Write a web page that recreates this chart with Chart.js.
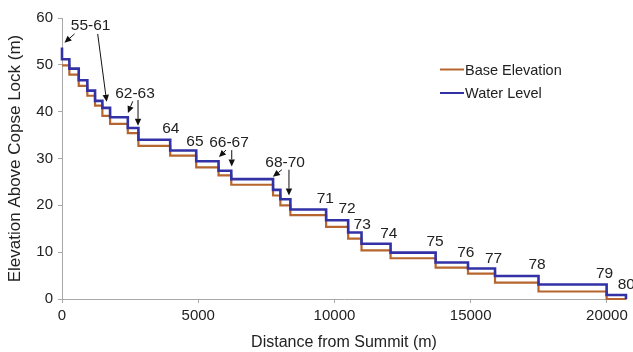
<!DOCTYPE html>
<html>
<head>
<meta charset="utf-8">
<script src="https://cdn.jsdelivr.net/npm/chart.js@4.4.1/dist/chart.umd.min.js"></script>
<style>
  html, body { margin: 0; padding: 0; background: #fff; }
  #wrap { width: 633px; height: 352px; }
</style>
</head>
<body>
<div id="wrap"><canvas id="profile"></canvas></div>
<script>
// Lock positions along the canal (m from summit), locks 55..80
const lockNumbers   = [55,56,57,58,59,60,61,62,63,64,65,66,67,68,69,70,71,72,73,74,75,76,77,78,79,80];
const lockDistance  = [0,270,614,930,1213,1482,1765,2415,2805,3971,4926,5746,6213,7746,8015,8382,9694,10503,10993,12059,13713,14901,15893,17489,19989,20699];
// level of the pound below each lock
const summitWaterLevel = 53.7;
const waterLevel    = [51.2,49.2,46.7,44.5,42.3,40.8,38.8,36.5,34.0,31.7,29.4,27.4,25.6,23.3,21.3,19.1,16.8,14.2,11.8,9.9,7.8,6.5,4.9,3.1,0.85,0];
const baseElevation = [49.9,47.9,45.5,43.4,41.3,39.1,37.4,35.4,32.7,30.6,28.1,26.4,24.4,22.1,20.0,17.9,15.4,12.9,10.4,8.7,6.7,5.4,3.5,1.6,0,0];

const xTicks = [0, 5000, 10000, 15000, 20000];
const yTicks = [0, 10, 20, 30, 40, 50, 60];

// lock number labels (data coords)
const lockLabels = [
  { text: '55-61', x: 1050,  y: 58.3 },
  { text: '62-63', x: 2680,  y: 43.9 },
  { text: '64',    x: 3995,  y: 36.3 },
  { text: '65',    x: 4880,  y: 33.6 },
  { text: '66-67', x: 6130,  y: 33.4 },
  { text: '68-70', x: 8190,  y: 29.0 },
  { text: '71',    x: 9665,  y: 21.5 },
  { text: '72',    x: 10464, y: 19.2 },
  { text: '73',    x: 11016, y: 15.8 },
  { text: '74',    x: 11996, y: 13.9 },
  { text: '75',    x: 13690, y: 12.2 },
  { text: '76',    x: 14820, y: 9.9 },
  { text: '77',    x: 15840, y: 8.7 },
  { text: '78',    x: 17434, y: 7.3 },
  { text: '79',    x: 19912, y: 5.3 },
  { text: '80',    x: 20711, y: 3.1 }
];
// arrows: from -> to (data coords)
const lockArrows = [
  [460, 56.6, 90, 54.7],
  [1310, 56.6, 1640, 42.1],
  [2596, 42.2, 2420, 39.7],
  [2790, 42.5, 2790, 37.0],
  [6020, 31.8, 5760, 30.3],
  [6230, 31.8, 6230, 28.3],
  [8070, 27.6, 7740, 26.1],
  [8330, 27.6, 8330, 22.1]
];

const BLUE = '#3232a6';
const ORANGE = '#b5652d';
const TEXT = '#222';
const AXIS = '#a8a8a8';
const FONT = '"Liberation Sans", Arial, sans-serif';

const waterPoints = [{ x: 0, y: summitWaterLevel }].concat(
  lockDistance.map((d, i) => ({ x: d, y: waterLevel[i] })));
const basePoints = lockDistance.map((d, i) => ({ x: d, y: baseElevation[i] }));

const annotate = {
  id: 'annotate',
  afterDatasetsDraw(chart) {
    const { ctx, scales: { x, y } } = chart;
    ctx.save();
    ctx.fillStyle = TEXT;
    ctx.font = '15.5px ' + FONT;
    ctx.textAlign = 'center';
    ctx.textBaseline = 'middle';
    lockLabels.forEach(l => ctx.fillText(l.text, x.getPixelForValue(l.x), y.getPixelForValue(l.y)));

    ctx.strokeStyle = '#111';
    ctx.fillStyle = '#111';
    ctx.lineWidth = 1;
    lockArrows.forEach(a => {
      const x1 = x.getPixelForValue(a[0]), y1 = y.getPixelForValue(a[1]);
      const x2 = x.getPixelForValue(a[2]), y2 = y.getPixelForValue(a[3]);
      const ang = Math.atan2(y2 - y1, x2 - x1);
      const hl = 7, hw = 3.2;
      const bx = x2 - hl * Math.cos(ang), by = y2 - hl * Math.sin(ang);
      ctx.beginPath();
      ctx.moveTo(x1, y1);
      ctx.lineTo(bx, by);
      ctx.stroke();
      ctx.beginPath();
      ctx.moveTo(x2, y2);
      ctx.lineTo(bx + hw * Math.sin(ang), by - hw * Math.cos(ang));
      ctx.lineTo(bx - hw * Math.sin(ang), by + hw * Math.cos(ang));
      ctx.closePath();
      ctx.fill();
    });

    // legend
    const items = [['Base Elevation', ORANGE], ['Water Level', BLUE]];
    ctx.font = '14.5px ' + FONT;
    ctx.textAlign = 'left';
    items.forEach((it, i) => {
      const ly = 69.5 + i * 23.5;
      ctx.strokeStyle = it[1];
      ctx.lineWidth = 2;
      ctx.beginPath();
      ctx.moveTo(440, ly);
      ctx.lineTo(464, ly);
      ctx.stroke();
      ctx.fillStyle = TEXT;
      ctx.fillText(it[0], 465, ly + 1);
    });
    ctx.restore();
  }
};

new Chart(document.getElementById('profile'), {
  type: 'line',
  data: {
    datasets: [
      {
        label: 'Water Level',
        data: waterPoints,
        borderColor: BLUE,
        borderWidth: 2.6,
        stepped: true,
        pointRadius: 0,
        fill: false,
        clip: false
      },
      {
        label: 'Base Elevation',
        data: basePoints,
        borderColor: ORANGE,
        borderWidth: 2.2,
        stepped: true,
        pointRadius: 0,
        fill: false,
        clip: false
      }
    ]
  },
  options: {
    responsive: true,
    maintainAspectRatio: false,
    animation: false,
    layout: { padding: { top: 18, right: 7, left: 5, bottom: 0 } },
    plugins: { legend: { display: false }, tooltip: { enabled: false } },
    scales: {
      x: {
        type: 'linear',
        min: 0,
        max: 20700,
        afterBuildTicks: s => { s.ticks = xTicks.map(v => ({ value: v })); },
        afterFit: s => { s.height = 53; },
        border: { color: AXIS, width: 1 },
        grid: { drawOnChartArea: false, color: AXIS, tickLength: 4 },
        ticks: { color: TEXT, font: { size: 15, family: FONT }, padding: 4, maxRotation: 0, callback: v => String(v) },
        title: { display: true, text: 'Distance from Summit (m)', color: TEXT, font: { size: 16, family: FONT }, padding: { top: 2, bottom: 0 } }
      },
      y: {
        min: 0,
        max: 60,
        afterBuildTicks: s => { s.ticks = yTicks.map(v => ({ value: v })); },
        afterFit: s => { s.width = 57; },
        border: { color: AXIS, width: 1 },
        grid: { drawOnChartArea: false, color: AXIS, tickLength: 4 },
        ticks: { color: TEXT, font: { size: 15, family: FONT }, padding: 5, callback: v => String(v) },
        title: { display: true, text: 'Elevation Above Copse Lock (m)', color: TEXT, font: { size: 17, family: FONT }, padding: { top: 0, bottom: 0 } }
      }
    }
  },
  plugins: [annotate]
});
</script>
</body>
</html>
